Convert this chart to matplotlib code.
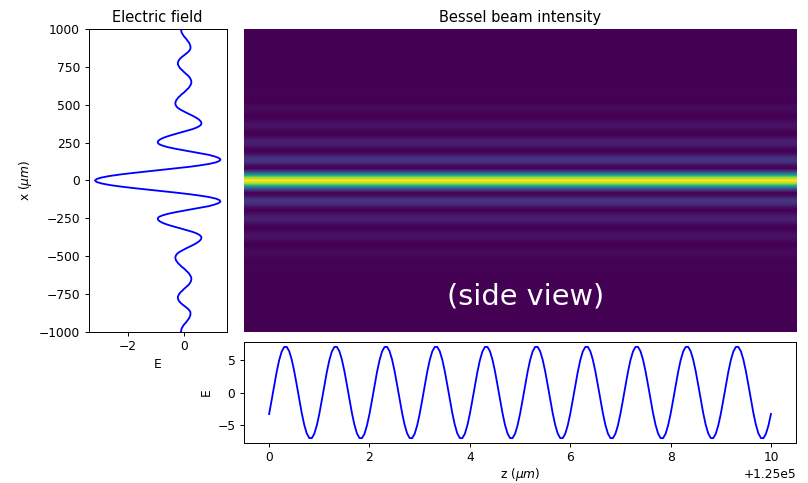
import matplotlib
matplotlib.use("Agg")
import matplotlib.pyplot as plt
import numpy as np

# transverse profile of the field at z = 1.25e5 um, x step 10 um
x_um = np.linspace(-1000, 1000, 201)
E_x = [
    -0.12, -0.11, -0.10, -0.07, -0.04, 0.00, 0.05, 0.09, 0.13, 0.17, 0.19, 0.21, 0.215,
    0.21, 0.18, 0.13, 0.07, 0.00, -0.07, -0.13, -0.18, -0.21, -0.23, -0.23,
    -0.21, -0.18, -0.14, -0.08, -0.03, 0.03, 0.09, 0.15, 0.19, 0.22, 0.24, 0.245,
    0.24, 0.21, 0.18, 0.14, 0.08, 0.03, -0.03, -0.10, -0.15, -0.21, -0.25, -0.29, -0.31,
    -0.32, -0.31, -0.28, -0.23, -0.15, -0.05, 0.05, 0.16, 0.27, 0.37, 0.46, 0.53, 0.58,
    0.60, 0.59, 0.53, 0.43, 0.29, 0.11, -0.08, -0.27, -0.46, -0.63, -0.77, -0.87, -0.93,
    -0.94, -0.89, -0.76, -0.57, -0.32, -0.04, 0.26, 0.56, 0.85, 1.05, 1.20,
    1.27, 1.24, 1.11, 0.88, 0.55, 0.15, -0.31, -0.81, -1.31, -1.80, -2.25, -2.63, -2.91, -3.09,
    -3.15,
    -3.09, -2.91, -2.63, -2.25, -1.80, -1.31, -0.81, -0.31, 0.15, 0.55, 0.88, 1.11, 1.24, 1.27,
    1.20, 1.05, 0.85, 0.56, 0.26, -0.04, -0.32, -0.57, -0.76, -0.89, -0.94,
    -0.93, -0.87, -0.77, -0.63, -0.46, -0.27, -0.08, 0.11, 0.29, 0.43, 0.53, 0.59, 0.60,
    0.58, 0.53, 0.46, 0.37, 0.27, 0.16, 0.05, -0.05, -0.15, -0.23, -0.28, -0.31, -0.32,
    -0.31, -0.29, -0.25, -0.21, -0.15, -0.10, -0.03, 0.03, 0.08, 0.14, 0.18, 0.21, 0.24, 0.245,
    0.24, 0.22, 0.19, 0.15, 0.09, 0.03, -0.03, -0.08, -0.14, -0.18, -0.21, -0.23, -0.23,
    -0.21, -0.18, -0.13, -0.07, 0.00, 0.07, 0.13, 0.18, 0.21, 0.215, 0.21, 0.19, 0.17,
    0.13, 0.09, 0.05, 0.00, -0.04, -0.07, -0.10, -0.11, -0.12,
]

# normalised intensity across the beam (heatmap rows), x step 20 um
x_int = np.linspace(-1000, 1000, 101)
intensity = [
    0.000, 0.000, 0.001, 0.002, 0.002, 0.001, 0.000, 0.001, 0.002, 0.003, 0.002, 0.001,
    0.000, 0.002, 0.004, 0.005, 0.003, 0.000, 0.001, 0.006, 0.011, 0.010, 0.004, 0.000,
    0.006, 0.021, 0.029, 0.020, 0.005, 0.001, 0.020, 0.045, 0.048, 0.026, 0.003, 0.009,
    0.053, 0.086, 0.079, 0.032, 0.000, 0.032, 0.111, 0.162, 0.123, 0.031, 0.010, 0.174,
    0.510, 0.854,
    1.000,
    0.854, 0.510, 0.174, 0.010, 0.031, 0.123, 0.162, 0.111, 0.032, 0.000, 0.032, 0.079,
    0.086, 0.053, 0.009, 0.003, 0.026, 0.048, 0.045, 0.020, 0.001, 0.005, 0.020, 0.029,
    0.021, 0.006, 0.000, 0.004, 0.010, 0.011, 0.006, 0.001, 0.000, 0.003, 0.005, 0.004,
    0.002, 0.000, 0.001, 0.002, 0.003, 0.002, 0.001, 0.000, 0.001, 0.002, 0.002, 0.001,
    0.000, 0.000,
]

# on-axis field along z (bottom panel), z step 0.05 um
z_um = np.linspace(125000, 125010, 201)
E_z = [
    -3.35, -1.21, 1.04, 3.19, 5.03, 6.38, 7.10, 7.12, 6.45, 5.15, 3.35, 1.21, -1.04, -3.19, -5.03, -6.38, -7.10, -7.12, -6.45, -5.15,
    -3.35, -1.21, 1.04, 3.19, 5.03, 6.38, 7.10, 7.12, 6.45, 5.15, 3.35, 1.21, -1.04, -3.19, -5.03, -6.38, -7.10, -7.12, -6.45, -5.15,
    -3.35, -1.21, 1.04, 3.19, 5.03, 6.38, 7.10, 7.12, 6.45, 5.15, 3.35, 1.21, -1.04, -3.19, -5.03, -6.38, -7.10, -7.12, -6.45, -5.15,
    -3.35, -1.21, 1.04, 3.19, 5.03, 6.38, 7.10, 7.12, 6.45, 5.15, 3.35, 1.21, -1.04, -3.19, -5.03, -6.38, -7.10, -7.12, -6.45, -5.15,
    -3.35, -1.21, 1.04, 3.19, 5.03, 6.38, 7.10, 7.12, 6.45, 5.15, 3.35, 1.21, -1.04, -3.19, -5.03, -6.38, -7.10, -7.12, -6.45, -5.15,
    -3.35, -1.21, 1.04, 3.19, 5.03, 6.38, 7.10, 7.12, 6.45, 5.15, 3.35, 1.21, -1.04, -3.19, -5.03, -6.38, -7.10, -7.12, -6.45, -5.15,
    -3.35, -1.21, 1.04, 3.19, 5.03, 6.38, 7.10, 7.12, 6.45, 5.15, 3.35, 1.21, -1.04, -3.19, -5.03, -6.38, -7.10, -7.12, -6.45, -5.15,
    -3.35, -1.21, 1.04, 3.19, 5.03, 6.38, 7.10, 7.12, 6.45, 5.15, 3.35, 1.21, -1.04, -3.19, -5.03, -6.38, -7.10, -7.12, -6.45, -5.15,
    -3.35, -1.21, 1.04, 3.19, 5.03, 6.38, 7.10, 7.12, 6.45, 5.15, 3.35, 1.21, -1.04, -3.19, -5.03, -6.38, -7.10, -7.12, -6.45, -5.15,
    -3.35, -1.21, 1.04, 3.19, 5.03, 6.38, 7.10, 7.12, 6.45, 5.15, 3.35, 1.21, -1.04, -3.19, -5.03, -6.38, -7.10, -7.12, -6.45, -5.15,
    -3.35,
]

DPI = 88
fig = plt.figure(figsize=(808 / DPI, 483 / DPI), dpi=DPI)
ax_e = fig.add_axes([0.1098, 0.3133, 0.1708, 0.626])
ax_img = fig.add_axes([0.302, 0.3133, 0.6844, 0.626])
ax_z = fig.add_axes([0.302, 0.0834, 0.6832, 0.2079])

# left: field across the beam
ax_e.plot(E_x, x_um, 'b-', lw=1.5)
ax_e.set_ylim(-1000, 1000)
ax_e.set_title("Electric field")
ax_e.set_xlabel("E")
ax_e.set_ylabel(r"x ($\mu m$)")

# top right: intensity map, same along z
img = np.repeat(np.array(intensity)[:, None], 2, axis=1)
ax_img.imshow(img, cmap='viridis', aspect='auto', origin='lower', interpolation='bilinear',
              extent=[0, 10, x_int[0], x_int[-1]])
ax_img.set_ylim(-1000, 1000)
ax_img.axis('off')
ax_img.set_title("Bessel beam intensity")
ax_img.text(0.51, 0.115, "(side view)", color='white', fontsize=23.5,
            ha='center', va='center', transform=ax_img.transAxes)

# bottom: field along the axis
ax_z.plot(z_um, E_z, 'b-', lw=1.5)
ax_z.set_xlabel(r"z ($\mu m$)", labelpad=1.5)
ax_z.set_ylabel("E")

fig.savefig("out.png", dpi=DPI)
